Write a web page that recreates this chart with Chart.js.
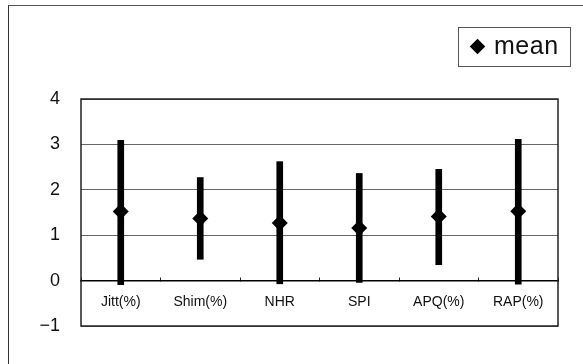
<!DOCTYPE html>
<html>
<head>
<meta charset="utf-8">
<script src="https://cdn.jsdelivr.net/npm/chart.js@4.4.1/dist/chart.umd.min.js"></script>
<style>
  html, body { margin: 0; padding: 0; background: #fff; }
  #wrap { position: relative; width: 583px; height: 364px; overflow: hidden; }
  #frame { position: absolute; left: 8px; top: 5px; width: 600px; height: 400px;
           border-left: 1px solid #333; border-top: 1px solid #555; }
  #legend { position: absolute; left: 458px; top: 27px; width: 113px; height: 40px;
            border: 1px solid #555; box-sizing: border-box; background: #fff;
            font-family: "Liberation Sans", Arial, sans-serif; font-size: 25px; color: #111;
            line-height: 38px; }
  #legend .mk { position: absolute; left: 13px; top: 13px; width: 11px; height: 11px;
                background: #000; transform: rotate(45deg); }
  #legend .tx { position: absolute; left: 35px; top: -2px; letter-spacing: 0.5px; }
</style>
</head>
<body>
<div id="wrap">
  <div id="frame"></div>
  <canvas id="chart" width="583" height="364"></canvas>
  <div id="legend"><span class="mk"></span><span class="tx">mean</span></div>
</div>
<script>
// values
const categories = ['Jitt(%)', 'Shim(%)', 'NHR', 'SPI', 'APQ(%)', 'RAP(%)'];
const meanValues = [1.52, 1.37, 1.27, 1.16, 1.41, 1.53];
const lowValues  = [-0.09, 0.47, -0.07, -0.04, 0.35, -0.08];
const highValues = [3.09, 2.27, 2.62, 2.36, 2.45, 3.11];
const yTicks = [-1, 0, 1, 2, 3, 4];

const ranges = categories.map((c, i) => [lowValues[i], highValues[i]]);

// box round the plot area, drawn under the marks
const boxPlugin = {
    id: 'plotBox',
    beforeDatasetsDraw(chart) {
        const a = chart.chartArea;
        const ctx = chart.ctx;
        ctx.save();
        ctx.strokeStyle = '#222';
        ctx.lineWidth = 1.5;
        ctx.strokeRect(a.left, a.top, a.right - a.left, a.bottom - a.top);
        ctx.restore();
    }
};

const ctx = document.getElementById('chart').getContext('2d');
new Chart(ctx, {
    data: {
        labels: categories,
        datasets: [
            {
                type: 'line',
                label: 'mean',
                data: meanValues,
                showLine: false,
                pointStyle: 'rectRot',
                pointRadius: 8,
                pointBackgroundColor: '#000',
                pointBorderColor: '#000',
                pointBorderWidth: 0,
                order: 0
            },
            {
                type: 'bar',
                label: 'range',
                data: ranges,
                backgroundColor: '#000',
                barThickness: 6,
                order: 1
            }
        ]
    },
    options: {
        responsive: false,
        animation: false,
        layout: { padding: { left: 0, top: 99, right: 25, bottom: 38 } },
        plugins: {
            legend: { display: false },
            tooltip: { enabled: false }
        },
        scales: {
            x: {
                type: 'category',
                position: { y: 0 },
                offset: true,
                grid: {
                    offset: true,
                    drawOnChartArea: false,
                    drawTicks: true,
                    tickLength: -4,
                    color: '#222'
                },
                border: { display: true, color: '#000', width: 1.5 },
                ticks: {
                    color: '#111',
                    padding: 17,
                    font: { family: 'Liberation Sans', size: 14 }
                }
            },
            y: {
                min: -1,
                max: 4,
                afterFit(scale) { scale.width = 81; },
                afterBuildTicks(scale) { scale.ticks = yTicks.map(v => ({ value: v })); },
                grid: { color: '#666', lineWidth: 1, drawTicks: false },
                border: { display: false },
                ticks: {
                    color: '#111',
                    padding: 21,
                    font: { family: 'Liberation Sans', size: 18 },
                    callback: v => String(v).replace('-', '\u2212')
                }
            }
        }
    },
    plugins: [boxPlugin]
});
</script>
</body>
</html>
